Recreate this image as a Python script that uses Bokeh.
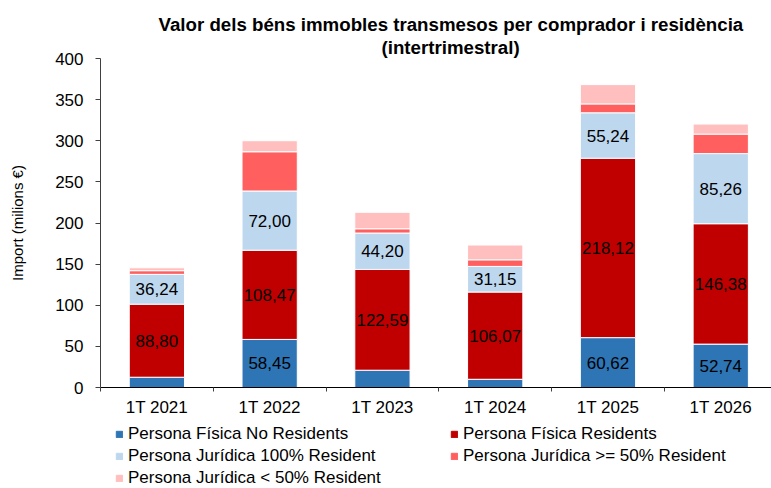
from bokeh.plotting import figure
from bokeh.layouts import column
from bokeh.models import ColumnDataSource, FixedTicker, Legend, LegendItem, Title
from bokeh.core.properties import value
from bokeh.embed import file_html
from bokeh.resources import INLINE

categories = ["1T 2021", "1T 2022", "1T 2023", "1T 2024", "1T 2025", "1T 2026"]
series_names = [
    "Persona Física No Residents",
    "Persona Física Residents",
    "Persona Jurídica 100% Resident",
    "Persona Jurídica >= 50% Resident",
    "Persona Jurídica < 50% Resident",
]
pf_no_res = [12.5, 58.45, 21.0, 10.0, 60.62, 52.74]
pf_res = [88.80, 108.47, 122.59, 106.07, 218.12, 146.38]
pj_100 = [36.24, 72.00, 44.20, 31.15, 55.24, 85.26]
pj_50 = [4.5, 47.7, 5.2, 8.0, 10.8, 23.7]
pj_lt50 = [3.5, 13.4, 20.0, 18.0, 23.5, 12.2]
y_ticks = [0, 50, 100, 150, 200, 250, 300, 350, 400]
title_lines = ["Valor dels béns immobles transmesos  per comprador i residència",
               "(intertrimestral)"]

colors = ["#2E75B6", "#C00000", "#BDD7EE", "#FF5F5F", "#FFBFBF"]
FONT = "Liberation Sans"

series = [pf_no_res, pf_res, pj_100, pj_50, pj_lt50]
keys = ["s0", "s1", "s2", "s3", "s4"]
xs = [i + 0.5 for i in range(len(categories))]
data = {"x": xs}
for k, s in zip(keys, series):
    data[k] = s
source = ColumnDataSource(data)

p = figure(width=771, height=422, output_backend="svg", toolbar_location=None,
           x_range=(0, 5.95), y_range=(0, 400),
           min_border_left=100, min_border_right=0, min_border_top=58,
           min_border_bottom=35)
p.title = None
title_offsets = [58, 281]
title_standoffs = [0, 1]
for txt, off, so in reversed(list(zip(title_lines, title_offsets, title_standoffs))):
    t = Title(text=txt, align="left", offset=off, text_font=FONT,
              text_font_size="18.7px", text_font_style="bold",
              text_color="#000000", standoff=so)
    p.add_layout(t, "above")

p.vbar_stack(keys, x="x", width=0.49, color=colors, source=source,
             line_color="white", line_width=1)

# segment labels
lx, ly, lt = [], [], []
for i in range(len(categories)):
    bottom = 0.0
    for j, s in enumerate(series):
        v = s[i]
        if j < 3 and v >= 30:
            lx.append(xs[i])
            ly.append(bottom + v / 2)
            lt.append(f"{v:.2f}".replace(".", ","))
        bottom += v
p.text(x=lx, y=ly, text=lt, text_align="center", text_baseline="middle",
       text_font=value(FONT), text_font_size="17px", text_color="black")

p.xgrid.visible = False
p.ygrid.visible = False
p.outline_line_color = None

xa = p.xaxis[0]
xa.ticker = FixedTicker(ticks=xs, minor_ticks=[0, 1, 2, 3, 4, 5, 6])
xa.major_label_overrides = {x: c for x, c in zip(xs, categories)}
xa.major_tick_out = 0
xa.major_tick_in = 0
xa.minor_tick_out = 4
xa.minor_tick_in = 0
xa.minor_tick_line_color = "#404040"
xa.axis_line_color = "#000000"
xa.major_label_text_font = FONT
xa.major_label_text_font_size = "17px"
xa.major_label_text_color = "#000000"
xa.major_label_standoff = 6

ya = p.yaxis[0]
ya.ticker = FixedTicker(ticks=y_ticks, minor_ticks=[])
ya.major_tick_out = 5
ya.major_tick_in = 0
ya.major_tick_line_color = "#404040"
ya.axis_line_color = "#404040"
ya.major_label_text_font = FONT
ya.major_label_text_font_size = "17px"
ya.major_label_text_color = "#000000"
ya.major_label_standoff = 12
ya.axis_label = "Import (milions €)"
ya.axis_label_text_font = FONT
ya.axis_label_text_font_size = "15px"
ya.axis_label_text_font_style = "normal"
ya.axis_label_text_color = "#000000"
ya.axis_label_standoff = 26

# legend figure below the chart (its bars are hidden; only the legend shows)
lg = figure(width=771, height=66, output_backend="svg", toolbar_location=None,
            x_range=(0, 5.95), y_range=(0, 400), x_axis_location=None,
            y_axis_location=None, min_border=0, min_border_left=0,
            min_border_right=0, min_border_top=0, min_border_bottom=0)
lg.xgrid.visible = False
lg.ygrid.visible = False
lg.outline_line_color = None
lr = lg.vbar_stack(keys, x="x", width=0.49, color=colors, source=source)
for r in lr:
    r.visible = False

common = dict(orientation="vertical", border_line_color=None,
              background_fill_alpha=0, padding=0, margin=0,
              glyph_width=8, glyph_height=8, label_standoff=5,
              label_height=20, spacing=2, click_policy="none",
              label_text_font=FONT, label_text_font_size="17px",
              label_text_color="#000000")
left_items = [LegendItem(label=series_names[k], renderers=[lr[k]]) for k in [0, 2, 4]]
right_items = [LegendItem(label=series_names[k], renderers=[lr[k]]) for k in [1, 3]]
lg.add_layout(Legend(items=left_items, location=(15, 0), **common), "center")
lg.add_layout(Legend(items=right_items, location=(350, 22), **common), "center")

layout = column(p, lg, spacing=0)
open("out.html", "w").write(file_html(layout, INLINE))
